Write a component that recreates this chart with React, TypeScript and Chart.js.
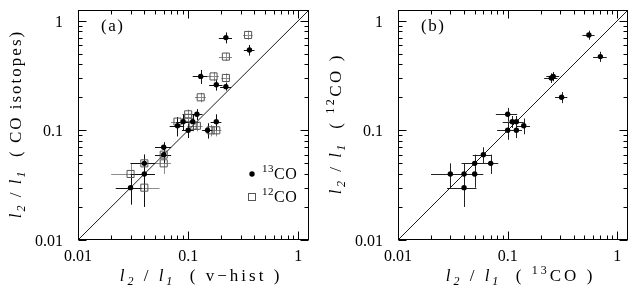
import React, { useEffect, useRef } from "react";
import { Chart, registerables } from "chart.js";
Chart.register(...registerables);

// ---- axis ----
const AXIS_MIN = 0.01;
const AXIS_MAX = 1.25;
const MAJOR_TICKS = [0.01, 0.1, 1];
const MAJOR_LABELS = ["0.01", "0.1", "1"];

// ---- panel (a): x = v-hist ratio, y = CO isotope ratio ----
const a13X = [0.22, 0.36, 0.13, 0.18, 0.22, 0.12, 0.11, 0.09, 0.08, 0.10, 0.15, 0.18, 0.06, 0.06, 0.04, 0.04, 0.03];
const a13Y = [0.70, 0.54, 0.31, 0.26, 0.25, 0.14, 0.12, 0.12, 0.11, 0.10, 0.10, 0.12, 0.07, 0.06, 0.05, 0.04, 0.03];
const a13XErr = [0.03, 0.04, 0.02, 0.025, 0.025, 0.015, 0.015, 0.012, 0.012, 0.012, 0.016, 0.02, 0.01, 0.01, 0.01, 0.01, 0.008];
const a13YErr = [0.08, 0.06, 0.045, 0.03, 0.02, 0.016, 0.02, 0.02, 0.022, 0.015, 0.016, 0.02, 0.008, 0.01, 0.01, 0.02, 0.009];

const a12X = [0.35, 0.22, 0.17, 0.22, 0.13, 0.10, 0.10, 0.08, 0.11, 0.12, 0.16, 0.18, 0.06, 0.06, 0.04, 0.03, 0.04];
const a12Y = [0.74, 0.47, 0.31, 0.30, 0.20, 0.14, 0.13, 0.12, 0.11, 0.11, 0.10, 0.10, 0.06, 0.05, 0.05, 0.04, 0.03];
const a12XErr = [0.035, 0.03, 0.02, 0.02, 0.015, 0.012, 0.012, 0.01, 0.012, 0.015, 0.02, 0.02, 0.01, 0.01, 0.01, 0.01, 0.015];
const a12YErr = [0.07, 0.04, 0.03, 0.03, 0.02, 0.015, 0.015, 0.012, 0.012, 0.012, 0.012, 0.012, 0.008, 0.01, 0.008, 0.01, 0.008];

// ---- panel (b): x = 13CO ratio, y = 12CO ratio ----
const bX = [0.55, 0.70, 0.25, 0.26, 0.31, 0.10, 0.11, 0.12, 0.10, 0.12, 0.14, 0.06, 0.05, 0.07, 0.03, 0.04, 0.05, 0.04];
const bY = [0.74, 0.47, 0.30, 0.31, 0.20, 0.14, 0.12, 0.12, 0.10, 0.10, 0.11, 0.06, 0.05, 0.05, 0.04, 0.04, 0.04, 0.03];
const bXErr = [0.07, 0.1, 0.035, 0.035, 0.04, 0.022, 0.02, 0.02, 0.02, 0.015, 0.02, 0.012, 0.012, 0.012, 0.01, 0.01, 0.01, 0.012];
const bYErr = [0.07, 0.05, 0.03, 0.03, 0.023, 0.02, 0.015, 0.015, 0.018, 0.015, 0.018, 0.01, 0.01, 0.01, 0.01, 0.01, 0.01, 0.01];

type Seg = { t: string; it?: boolean; sub?: boolean; sup?: boolean };

const TITLE_A_X: Seg[] = [
  { t: "l", it: true }, { t: "2", it: true, sub: true }, { t: " / " },
  { t: "l", it: true }, { t: "1", it: true, sub: true }, { t: "  ( v\u2212hist )" },
];
const TITLE_A_Y: Seg[] = [
  { t: "l", it: true }, { t: "2", it: true, sub: true }, { t: " / " },
  { t: "l", it: true }, { t: "1", it: true, sub: true }, { t: "  ( CO isotopes)" },
];
const TITLE_B_X: Seg[] = [
  { t: "l", it: true }, { t: "2", it: true, sub: true }, { t: " / " },
  { t: "l", it: true }, { t: "1", it: true, sub: true }, { t: "  ( " },
  { t: "13", sup: true }, { t: "CO )" },
];
const TITLE_B_Y: Seg[] = [
  { t: "l", it: true }, { t: "2", it: true, sub: true }, { t: " / " },
  { t: "l", it: true }, { t: "1", it: true, sub: true }, { t: "  ( " },
  { t: "12", sup: true }, { t: "CO )" },
];

const FONT = '"Liberation Serif", "Times New Roman", serif';

function segFont(s: Seg, size: number) {
  const sz = s.sub || s.sup ? Math.round(size * 0.7) : size;
  return `${s.it ? "italic " : ""}${sz}px ${FONT}`;
}

function richWidth(ctx: CanvasRenderingContext2D, segs: Seg[], size: number, ls: number) {
  let w = 0;
  for (const s of segs) {
    ctx.font = segFont(s, size);
    for (const ch of s.t) w += ctx.measureText(ch).width + ls;
  }
  return w - ls;
}

function drawRich(ctx: CanvasRenderingContext2D, segs: Seg[], x: number, y: number, size: number, ls: number, align: "left" | "center") {
  let cx = align === "center" ? x - richWidth(ctx, segs, size, ls) / 2 : x;
  ctx.textAlign = "left";
  ctx.textBaseline = "alphabetic";
  for (const s of segs) {
    ctx.font = segFont(s, size);
    const dy = s.sub ? size * 0.25 : s.sup ? -size * 0.42 : 0;
    for (const ch of s.t) {
      ctx.fillText(ch, cx, y + dy);
      cx += ctx.measureText(ch).width + ls;
    }
  }
}

function pts(xs: number[], ys: number[]) {
  return xs.map((x, i) => ({ x, y: ys[i] }));
}

const errorBarPlugin = {
  id: "errorBars",
  beforeDatasetsDraw(chart: any) {
    const ctx = chart.ctx as CanvasRenderingContext2D;
    const xs = chart.scales.x, ys = chart.scales.y;
    const { left, right, top, bottom } = chart.chartArea;
    ctx.save();
    ctx.beginPath();
    ctx.rect(left, top, right - left, bottom - top);
    ctx.clip();
    chart.data.datasets.forEach((ds: any) => {
      if (!ds.errX) return;
      ctx.strokeStyle = ds.barColor;
      ctx.lineWidth = 1;
      ds.data.forEach((p: any, j: number) => {
        const ex = ds.errX[j], ey = ds.errY[j];
        const cx = Math.round(xs.getPixelForValue(p.x)) + 0.5;
        const cy = Math.round(ys.getPixelForValue(p.y)) + 0.5;
        const x0 = xs.getPixelForValue(p.x - ex), x1 = xs.getPixelForValue(p.x + ex);
        const y0 = ys.getPixelForValue(p.y - ey), y1 = ys.getPixelForValue(p.y + ey);
        ctx.beginPath();
        ctx.moveTo(x0, cy); ctx.lineTo(x1, cy);
        ctx.moveTo(cx, y0); ctx.lineTo(cx, y1);
        ctx.stroke();
      });
    });
    ctx.restore();
  },
};

type Decor = { label: string; xTitle: Seg[]; yTitle: Seg[]; yls: number; legend: boolean };

function makeDecor(d: Decor) {
  return {
    id: "decor",
    afterDraw(chart: any) {
      const ctx = chart.ctx as CanvasRenderingContext2D;
      const xs = chart.scales.x, ys = chart.scales.y;
      const { left, right, top, bottom } = chart.chartArea;
      ctx.save();
      ctx.strokeStyle = "#000";
      ctx.fillStyle = "#000";
      ctx.lineWidth = 1;
      const L = Math.round(left) + 0.5, R = Math.round(right) - 0.5;
      const T = Math.round(top) + 0.5, B = Math.round(bottom) - 0.5;
      ctx.strokeRect(L, T, R - L, B - T);
      // ticks
      ctx.beginPath();
      for (const dec of MAJOR_TICKS) {
        for (let k = 1; k <= 9; k++) {
          const v = dec * k;
          if (v < AXIS_MIN || v > AXIS_MAX) continue;
          const len = k === 1 ? 8 : 4;
          const px = Math.round(xs.getPixelForValue(v)) + 0.5;
          const py = Math.round(ys.getPixelForValue(v)) + 0.5;
          ctx.moveTo(px, B); ctx.lineTo(px, B - len);
          ctx.moveTo(px, T); ctx.lineTo(px, T + len);
          ctx.moveTo(L, py); ctx.lineTo(L + len, py);
          ctx.moveTo(R, py); ctx.lineTo(R - len, py);
        }
      }
      ctx.stroke();
      // tick labels
      ctx.font = `16px ${FONT}`;
      MAJOR_TICKS.forEach((v, i) => {
        const px = xs.getPixelForValue(v);
        const py = ys.getPixelForValue(v);
        ctx.textAlign = "center";
        ctx.textBaseline = "alphabetic";
        ctx.fillText(MAJOR_LABELS[i], px, bottom + 21);
        ctx.textAlign = "right";
        ctx.fillText(MAJOR_LABELS[i], left - 15, py + 6);
      });
      // panel label
      drawRich(ctx, [{ t: d.label }], left + 23, top + 21, 17, 1.5, "left");
      // axis titles
      drawRich(ctx, d.xTitle, (left + right) / 2 + 6, bottom + 41, 17, 3, "center");
      ctx.save();
      ctx.translate(left - 57, (top + bottom) / 2);
      ctx.rotate(-Math.PI / 2);
      drawRich(ctx, d.yTitle, 0, 0, 17, d.yls, "center");
      ctx.restore();
      // legend
      if (d.legend) {
        const lx = left + 174, ly1 = top + 164, ly2 = top + 187;
        ctx.beginPath();
        ctx.arc(lx, ly1, 2.7, 0, Math.PI * 2);
        ctx.fill();
        ctx.strokeStyle = "#555";
        ctx.strokeRect(lx - 3.5, ly2 - 3.5, 7, 7);
        drawRich(ctx, [{ t: "13", sup: true }, { t: "CO" }], lx + 10, ly1 + 5, 16, 0.5, "left");
        drawRich(ctx, [{ t: "12", sup: true }, { t: "CO" }], lx + 10, ly2 + 5, 16, 0.5, "left");
      }
      ctx.restore();
    },
  };
}

function scalesCfg() {
  return {
    x: { type: "logarithmic", min: AXIS_MIN, max: AXIS_MAX, display: false },
    y: { type: "logarithmic", min: AXIS_MIN, max: AXIS_MAX, display: false },
  };
}

function diagonal() {
  return {
    data: [{ x: AXIS_MIN, y: AXIS_MIN }, { x: AXIS_MAX, y: AXIS_MAX }],
    showLine: true,
    pointRadius: 0,
    borderColor: "#000",
    borderWidth: 0.9,
    order: 3,
  };
}

function buildA(): any {
  return {
    type: "scatter",
    data: {
      datasets: [
        diagonal(),
        {
          label: "12CO",
          data: pts(a12X, a12Y),
          errX: a12XErr, errY: a12YErr, barColor: "#8c8c8c",
          pointStyle: "rect", pointRadius: 5,
          backgroundColor: "rgba(255,255,255,0)", borderColor: "#555", borderWidth: 1,
          order: 2,
        },
        {
          label: "13CO",
          data: pts(a13X, a13Y),
          errX: a13XErr, errY: a13YErr, barColor: "#111",
          pointStyle: "circle", pointRadius: 2.7,
          backgroundColor: "#000", borderWidth: 0,
          order: 1,
        },
      ],
    },
    options: {
      animation: false,
      responsive: false,
      layout: { padding: { left: 78, right: 9, top: 10, bottom: 57 } },
      scales: scalesCfg(),
      plugins: { legend: { display: false }, tooltip: { enabled: false } },
    },
    plugins: [errorBarPlugin, makeDecor({ label: "(a)", xTitle: TITLE_A_X, yTitle: TITLE_A_Y, yls: 2, legend: true })],
  };
}

function buildB(): any {
  return {
    type: "scatter",
    data: {
      datasets: [
        diagonal(),
        {
          label: "12CO vs 13CO",
          data: pts(bX, bY),
          errX: bXErr, errY: bYErr, barColor: "#222",
          pointStyle: "circle", pointRadius: 2.7,
          backgroundColor: "#000", borderWidth: 0,
          order: 1,
        },
      ],
    },
    options: {
      animation: false,
      responsive: false,
      layout: { padding: { left: 80, right: 8, top: 10, bottom: 57 } },
      scales: scalesCfg(),
      plugins: { legend: { display: false }, tooltip: { enabled: false } },
    },
    plugins: [errorBarPlugin, makeDecor({ label: "(b)", xTitle: TITLE_B_X, yTitle: TITLE_B_Y, yls: 2.5, legend: false })],
  };
}

export default function App() {
  const refA = useRef<HTMLCanvasElement>(null);
  const refB = useRef<HTMLCanvasElement>(null);
  useEffect(() => {
    const a = new Chart(refA.current as HTMLCanvasElement, buildA());
    const b = new Chart(refB.current as HTMLCanvasElement, buildB());
    return () => {
      a.destroy();
      b.destroy();
    };
  }, []);
  return (
    <div style={{ position: "absolute", left: 0, top: 0, width: 636, height: 297, background: "#fff" }}>
      <canvas ref={refA} width={318} height={297} style={{ position: "absolute", left: 0, top: 0 }} />
      <canvas ref={refB} width={318} height={297} style={{ position: "absolute", left: 318, top: 0 }} />
    </div>
  );
}
